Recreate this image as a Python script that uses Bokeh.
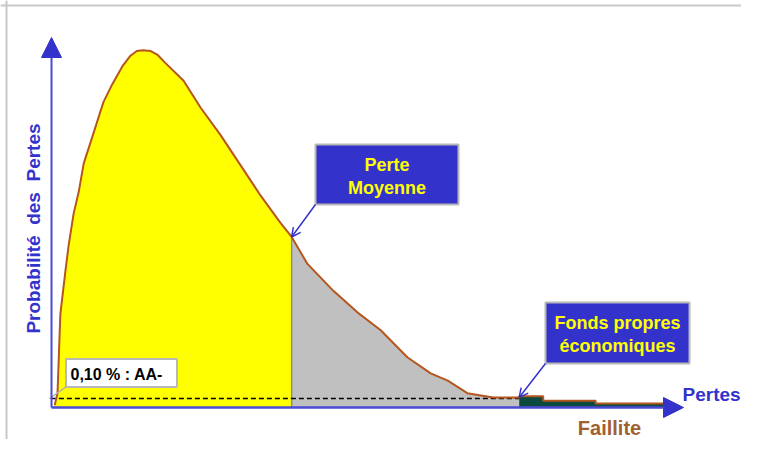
import numpy as np
from bokeh.plotting import figure
from bokeh.models import Range1d, Arrow, NormalHead, OpenHead, Span
from bokeh.core.properties import value
from bokeh.embed import file_html
from bokeh.resources import INLINE

# ---------------- data (loss units / probability units) ----------------
loss = [0.5, 0.95, 1.4, 2.2, 2.7, 3.5, 4.3, 5.1, 6.2, 8.2, 9.6, 11.2, 12.5, 13.5, 14.5,
        15.7, 16.8, 18.0, 20.9, 23.6, 26.7, 29.9, 33.1, 36.2, 38.0, 40.5, 44.6,
        48.4, 52.1, 56.3, 60.0, 62.7, 65.8, 69.9, 74.0]
prob = [0.06, 0.39, 2.6, 3.8, 4.5, 5.4, 6.0, 6.8, 7.4, 8.5, 9.0, 9.5, 9.8, 9.93, 9.95,
        9.93, 9.82, 9.6, 9.1, 8.35, 7.6, 6.75, 5.9, 5.15, 4.75, 4.0, 3.25,
        2.65, 2.15, 1.4, 0.95, 0.75, 0.4, 0.28, 0.28]
tail_loss = [74.0, 77.8, 77.8, 86.1, 86.1, 97.2]
tail_prob = [0.31, 0.31, 0.19, 0.19, 0.11, 0.11]
mean_loss = 38.0
capital_loss = 74.0
confidence_level = 0.25
axis_x_end = 100.0

label_mean = ["Perte", "Moyenne"]
label_capital = ["Fonds propres", "économiques"]
label_conf = "0,10 % : AA-"
label_x = "Pertes"
label_y = "Probabilité \u00a0des \u00a0Pertes"
label_fail = "Faillite"

# ---------------- styles / geometry ----------------
BLUE = "#3333cc"
BROWN = "#b5561f"
FONT = value("Liberation Sans")
W, H = 741, 439
X0PX, Y0PX = 51, 407   # position of the axis origin in the picture
SX, SY = 6.32, 35.9    # pixels per unit


def dx(px):
    return (px - X0PX) / SX


def dy(py):
    return (Y0PX - py) / SY


p = figure(width=W, height=H,
           x_range=Range1d(dx(0), dx(W)),
           y_range=Range1d(dy(H), dy(0)),
           x_axis_type=None, y_axis_type=None,
           output_backend="svg", toolbar_location=None, min_border=0)
p.outline_line_color = None
p.background_fill_color = "white"

# frame lines (top / left)
p.add_layout(Span(location=dx(6), dimension="height", line_color="#c8c8c8", line_width=2))
p.add_layout(Span(location=dy(5), dimension="width", line_color="#c8c8c8", line_width=2))

loss_a = np.array(loss)
prob_a = np.array(prob)
m1 = loss_a <= mean_loss
m2 = (loss_a >= mean_loss) & (loss_a <= capital_loss)
p.varea(x=loss_a[m1], y1=0, y2=prob_a[m1], fill_color="#ffff00")
p.varea(x=loss_a[m2], y1=0, y2=prob_a[m2], fill_color="#c0c0c0")
p.varea(x=tail_loss, y1=0, y2=tail_prob, fill_color="#0b4a3e")

mean_prob = float(np.interp(mean_loss, loss_a, prob_a))
cap_prob = float(np.interp(capital_loss, loss_a, prob_a))
p.segment(x0=[mean_loss], y0=[0], x1=[mean_loss], y1=[mean_prob],
          line_color="#8c8c8c", line_width=1.5)

p.line([loss_a[0] - 0.6, capital_loss], [confidence_level, confidence_level],
       line_color="black", line_width=1.5, line_dash="5 3")

p.line(np.concatenate([loss_a, tail_loss]), np.concatenate([prob_a, tail_prob]),
       line_color=BROWN, line_width=2)

# axes with arrow heads
p.add_layout(Arrow(end=NormalHead(size=20, fill_color=BLUE, line_color=BLUE),
                   x_start=0, y_start=0, x_end=0, y_end=dy(37),
                   line_color="#4a4ad8", line_width=2))
p.add_layout(Arrow(end=NormalHead(size=20, fill_color=BLUE, line_color=BLUE),
                   x_start=0, y_start=0, x_end=axis_x_end, y_end=0,
                   line_color="#4a4ad8", line_width=2.5))

# callout boxes
p.quad(left=[dx(315), dx(545)], right=[dx(458), dx(689)],
       top=[dy(144), dy(302)], bottom=[dy(204), dy(363)],
       fill_color=BLUE, line_color="#b8b8b8", line_width=2)
p.text(x=[dx(386.5)] * 2, y=[dy(164), dy(187)], text=label_mean,
       text_font=FONT, text_font_size="18px", text_font_style="bold",
       text_color="#ffff00", text_align="center", text_baseline="middle")
p.text(x=[dx(617)] * 2, y=[dy(322), dy(345)], text=label_capital,
       text_font=FONT, text_font_size="18px", text_font_style="bold",
       text_color="#ffff00", text_align="center", text_baseline="middle")

p.add_layout(Arrow(end=OpenHead(size=9, line_color=BLUE, line_width=1.5),
                   x_start=dx(315), y_start=dy(204), x_end=mean_loss, y_end=mean_prob,
                   line_color=BLUE, line_width=1.5))
p.add_layout(Arrow(end=OpenHead(size=9, line_color=BLUE, line_width=1.5),
                   x_start=dx(545), y_start=dy(363), x_end=capital_loss, y_end=cap_prob,
                   line_color=BLUE, line_width=1.5))

# confidence label
p.segment(x0=[dx(66)], y0=[dy(386)], x1=[dx(49)], y1=[confidence_level],
          line_color="#b0b0b0", line_width=1.5)
p.quad(left=[dx(65.5)], right=[dx(176.5)], top=[dy(358.5)], bottom=[dy(386.5)],
       fill_color="white", line_color="#b8b8b8", line_width=2)
p.text(x=[dx(70)], y=[dy(374)], text=[label_conf],
       text_font=FONT, text_font_size="16px", text_font_style="bold",
       text_color="black", text_align="left", text_baseline="middle")

# axis labels
p.text(x=[dx(682)], y=[dy(394)], text=[label_x],
       text_font=FONT, text_font_size="19px", text_font_style="bold",
       text_color=BLUE, text_align="left", text_baseline="middle")
p.text(x=[dx(609)], y=[dy(427)], text=[label_fail],
       text_font=FONT, text_font_size="20px", text_font_style="bold",
       text_color="#a0612f", text_align="center", text_baseline="middle")
p.text(x=[dx(33)], y=[dy(228)], text=[label_y], angle=np.pi / 2,
       text_font=FONT, text_font_size="19px", text_font_style="bold",
       text_color=BLUE, text_align="center", text_baseline="middle")

open("out.html", "w").write(file_html(p, INLINE))
